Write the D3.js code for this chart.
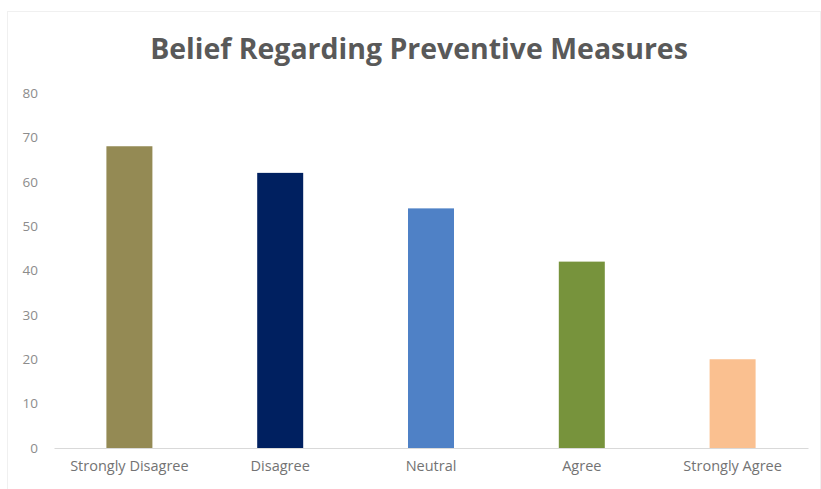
<!DOCTYPE html>
<html>
<head>
<meta charset="utf-8">
<script src="https://cdn.jsdelivr.net/npm/d3@7"></script>
<style>
  html, body { margin: 0; padding: 0; background: #ffffff; }
  svg { display: block; }
</style>
</head>
<body>
<svg id="chart" width="821" height="489"></svg>
<script>
// Survey responses: belief regarding preventive measures
const categories = ["Strongly Disagree", "Disagree", "Neutral", "Agree", "Strongly Agree"];
const counts = [68, 62, 54, 42, 20];
const barColors = ["#948a54", "#002060", "#4f81c6", "#77933c", "#fac090"];
const yTicks = [0, 10, 20, 30, 40, 50, 60, 70, 80];
const chartTitle = "Belief Regarding Preventive Measures";

const svg = d3.select("#chart");
const W = 821, H = 489;
const plot = { left: 54, right: 808, top: 93, bottom: 448 };
const font = "'Open Sans', 'Noto Sans', sans-serif";

// faint chart-area frame
svg.append("rect")
  .attr("x", 7.5).attr("y", 11.5)
  .attr("width", W - 8).attr("height", H - 8)
  .attr("fill", "none").attr("stroke", "#f0f0f0");

const x = d3.scaleBand()
  .domain(categories)
  .range([plot.left, plot.right])
  .paddingInner(0.695)
  .paddingOuter(0.3475);

const y = d3.scaleLinear()
  .domain([0, 80])
  .range([plot.bottom, plot.top]);

// title, fitted to its width
const title = svg.append("text")
  .attr("x", 419).attr("y", 59)
  .attr("text-anchor", "middle")
  .attr("font-family", font)
  .attr("font-weight", "bold")
  .attr("font-size", 26)
  .attr("fill", "#595959")
  .text(chartTitle);
const tw = title.node().getComputedTextLength();
title.attr("font-size", 26 * 538 / tw);

// bars
svg.append("g").selectAll("rect")
  .data(categories)
  .join("rect")
  .attr("x", d => x(d))
  .attr("width", x.bandwidth())
  .attr("y", (d, i) => y(counts[i]))
  .attr("height", (d, i) => y(0) - y(counts[i]))
  .attr("fill", (d, i) => barColors[i]);

// value axis (labels only)
const yAxis = svg.append("g")
  .attr("transform", `translate(${plot.left - 16},0)`)
  .call(d3.axisLeft(y).tickValues(yTicks).tickSize(0).tickPadding(0));
yAxis.select(".domain").remove();
yAxis.selectAll("text")
  .attr("font-family", font)
  .attr("font-size", 13.5)
  .attr("fill", "#8c8c8c");

// category axis
const xAxis = svg.append("g")
  .attr("transform", `translate(0,${plot.bottom})`)
  .call(d3.axisBottom(x).tickSize(0).tickPadding(13));
xAxis.select(".domain")
  .attr("stroke", "#d9d9d9")
  .attr("stroke-width", 1);
xAxis.selectAll("text")
  .attr("font-family", font)
  .attr("font-size", 14.5)
  .attr("fill", "#737373");
</script>
</body>
</html>
